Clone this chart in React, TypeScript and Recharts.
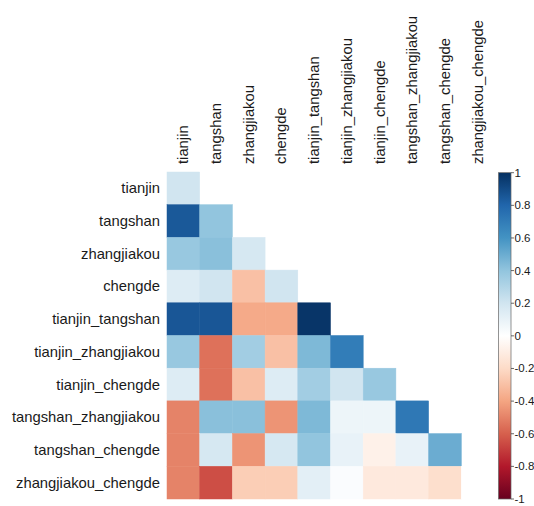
import React, { useLayoutEffect } from 'react';
import { ScatterChart, Scatter, XAxis, YAxis } from 'recharts';

const variables = [
  'tianjin',
  'tangshan',
  'zhangjiakou',
  'chengde',
  'tianjin_tangshan',
  'tianjin_zhangjiakou',
  'tianjin_chengde',
  'tangshan_zhangjiakou',
  'tangshan_chengde',
  'zhangjiakou_chengde',
];

// lower triangle, row by row (diagonal included)
const rowTianjin = [0.2];
const rowTangshan = [0.85, 0.4];
const rowZhangjiakou = [0.38, 0.42, 0.18];
const rowChengde = [0.15, 0.2, -0.3, 0.2];
const rowTianjinTangshan = [0.86, 0.86, -0.38, -0.38, 0.98];
const rowTianjinZhangjiakou = [0.38, -0.55, 0.35, -0.3, 0.45, 0.7];
const rowTianjinChengde = [0.15, -0.55, -0.3, 0.15, 0.35, 0.2, 0.38];
const rowTangshanZhangjiakou = [-0.5, 0.42, 0.42, -0.45, 0.45, 0.08, 0.08, 0.72];
const rowTangshanChengde = [-0.5, 0.18, -0.45, 0.18, 0.4, 0.1, -0.08, 0.1, 0.5];
const rowZhangjiakouChengde = [-0.5, -0.65, -0.25, -0.25, 0.12, 0.02, -0.12, -0.12, -0.18, 0];

const rows = [
  rowTianjin,
  rowTangshan,
  rowZhangjiakou,
  rowChengde,
  rowTianjinTangshan,
  rowTianjinZhangjiakou,
  rowTianjinChengde,
  rowTangshanZhangjiakou,
  rowTangshanChengde,
  rowZhangjiakouChengde,
];

const legendTicks = [1, 0.8, 0.6, 0.4, 0.2, 0, -0.2, -0.4, -0.6, -0.8, -1];

const RDBU = [
  '#67001F', '#B2182B', '#D6604D', '#F4A582', '#FDDBC7', '#FFFFFF',
  '#D1E5F0', '#92C5DE', '#4393C3', '#2166AC', '#053061',
];

const hex = (c: string) => [1, 3, 5].map((i) => parseInt(c.slice(i, i + 2), 16));

const colorFor = (v: number) => {
  const t = ((Math.max(-1, Math.min(1, v)) + 1) / 2) * (RDBU.length - 1);
  const i = Math.min(Math.floor(t), RDBU.length - 2);
  const f = t - i;
  const a = hex(RDBU[i]);
  const b = hex(RDBU[i + 1]);
  const m = a.map((x, k) => Math.round(x + (b[k] - x) * f));
  return `rgb(${m[0]},${m[1]},${m[2]})`;
};

const data = rows.flatMap((row, i) =>
  row.map((v, j) => ({ x: j + 0.5, y: i + 0.5, v }))
);

const N = variables.length;
const W = 534;
const H = 506;
const CELL = 32.7;
const TICKS = variables.map((_, i) => i + 0.5);
const FONT = '"Liberation Sans", Arial, sans-serif';

const CellShape = (props: any) => {
  const { cx, cy, payload } = props;
  return (
    <rect
      x={cx - CELL / 2}
      y={cy - CELL / 2}
      width={CELL}
      height={CELL}
      fill={colorFor(payload.v)}
      stroke={colorFor(payload.v)}
      strokeWidth={0.5}
    />
  );
};

const TopTick = (props: any) => {
  const { x, payload } = props;
  const label = variables[Math.floor(payload.value)];
  const yy = 164;
  return (
    <text
      x={x + 5}
      y={yy}
      transform={`rotate(-90, ${x + 5}, ${yy})`}
      textAnchor="start"
      fontSize={14.8}
      fontFamily={FONT}
      fill="#1a1a1a"
    >
      {label}
    </text>
  );
};

const LeftTick = (props: any) => {
  const { y, payload } = props;
  const label = variables[Math.floor(payload.value)];
  return (
    <text x={160} y={y + 5} textAnchor="end" fontSize={14.8} fontFamily={FONT} fill="#1a1a1a">
      {label}
    </text>
  );
};

const ColorBar = () => {
  const x0 = 498.5;
  const w = 12.5;
  const y0 = 172.7;
  const h = 326.3;
  return (
    <svg width={W} height={H} style={{ position: 'absolute', left: 0, top: 0, pointerEvents: 'none' }}>
      <defs>
        <linearGradient id="rdbu" x1="0" y1="1" x2="0" y2="0">
          {RDBU.map((c, i) => (
            <stop key={i} offset={`${(i / (RDBU.length - 1)) * 100}%`} stopColor={c} />
          ))}
        </linearGradient>
      </defs>
      <rect x={x0} y={y0} width={w} height={h} fill="url(#rdbu)" stroke="#666" strokeWidth={0.7} />
      {legendTicks.map((t) => {
        const ty = y0 + ((1 - t) / 2) * h;
        return (
          <g key={t}>
            <line x1={x0 + w} x2={x0 + w + 3} y1={ty} y2={ty} stroke="#444" strokeWidth={0.8} />
            <text x={x0 + w + 3.5} y={ty + 4} fontSize={11.5} fontFamily={FONT} fill="#1a1a1a">
              {t}
            </text>
          </g>
        );
      })}
    </svg>
  );
};

export default function App() {
  // the full figure spans the whole window, so drop the default body margin
  useLayoutEffect(() => {
    document.body.style.margin = '0';
  }, []);

  return (
    <div style={{ position: 'relative', width: W, height: H }}>
      <ScatterChart width={W} height={H} margin={{ top: 0, right: 40, bottom: 7, left: 0 }}>
        <XAxis
          type="number"
          dataKey="x"
          domain={[0, N]}
          ticks={TICKS}
          orientation="top"
          height={172}
          axisLine={false}
          tickLine={false}
          tick={<TopTick />}
          interval={0}
        />
        <YAxis
          type="number"
          dataKey="y"
          domain={[0, N]}
          ticks={TICKS}
          reversed
          width={167}
          axisLine={false}
          tickLine={false}
          tick={<LeftTick />}
          interval={0}
        />
        <Scatter data={data} shape={<CellShape />} isAnimationActive={false} />
      </ScatterChart>
      <ColorBar />
    </div>
  );
}
